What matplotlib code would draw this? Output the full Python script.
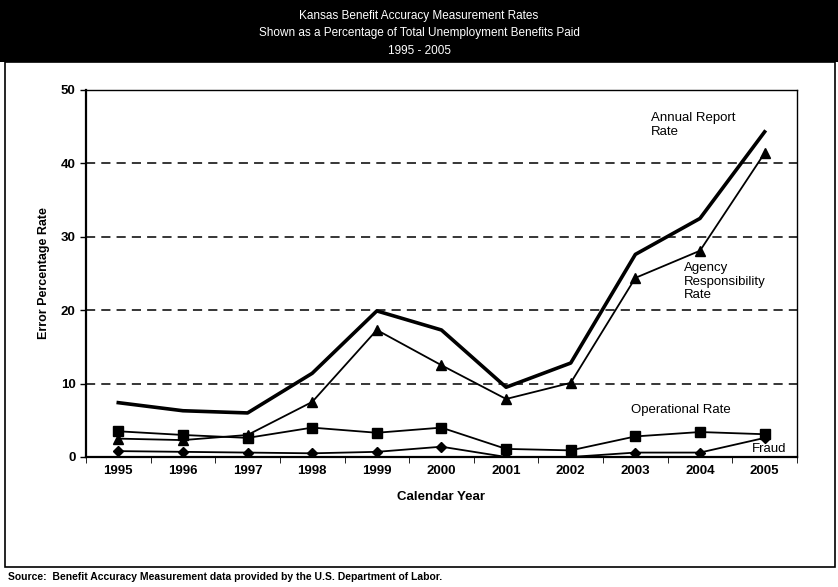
import matplotlib.pyplot as plt
from matplotlib.patches import Rectangle

plt.rcParams['font.family'] = ['Liberation Sans', 'DejaVu Sans']

years = ['1995', '1996', '1997', '1998', '1999', '2000',
         '2001', '2002', '2003', '2004', '2005']
annual_report = [7.4, 6.3, 6.0, 11.4, 19.9, 17.3, 9.5, 12.8, 27.6, 32.5, 44.3]
agency_resp = [2.5, 2.3, 3.0, 7.5, 17.3, 12.5, 7.9, 10.1, 24.4, 28.1, 41.4]
operational = [3.5, 3.0, 2.6, 4.0, 3.3, 4.0, 1.1, 0.9, 2.8, 3.4, 3.1]
fraud = [0.8, 0.7, 0.6, 0.5, 0.7, 1.4, 0.0, 0.0, 0.6, 0.6, 2.6]

title_lines = ['Kansas Benefit Accuracy Measurement Rates',
               'Shown as a Percentage of Total Unemployment Benefits Paid',
               '1995 - 2005']


def plot_rates():
    fig = plt.figure(figsize=(8.38, 5.87), dpi=100)

    # black header band + outer frame
    fig.patches.append(Rectangle((0, 0.894), 1, 0.106, transform=fig.transFigure,
                                 facecolor='black', edgecolor='none'))
    fig.patches.append(Rectangle((0.006, 0.034), 0.99, 0.86, transform=fig.transFigure,
                                 facecolor='none', edgecolor='black', linewidth=1.2))
    for i, line in enumerate(title_lines):
        fig.text(0.5, 0.973 - i * 0.03, line, color='white', ha='center',
                 va='center', fontsize=8.5)
    fig.text(0.01, 0.017, 'Source:  Benefit Accuracy Measurement data provided by the U.S. Department of Labor.',
             fontsize=7.5, fontweight='bold', va='center')

    ax = fig.add_axes([0.1026, 0.2215, 0.8484, 0.6252])
    x = list(range(len(years)))

    ax.plot(x, annual_report, color='black', linewidth=2.6)
    ax.plot(x, agency_resp, color='black', linewidth=1.3, marker='^', markersize=6.5)
    ax.plot(x, operational, color='black', linewidth=1.3, marker='s', markersize=6.5)
    ax.plot(x, fraud, color='black', linewidth=1.3, marker='D', markersize=5.5)

    ax.set_xlim(-0.5, len(years) - 0.5)
    ax.set_ylim(0, 50)
    ax.set_yticks([0, 10, 20, 30, 40, 50])
    for yv in [10, 20, 30, 40]:
        ax.axhline(yv, color='black', linestyle=(0, (6, 4)), linewidth=1.1, zorder=0)

    ax.set_xticks(x)
    ax.set_xticklabels(years, fontsize=9.5, fontweight='bold')
    ax.set_xticks([i - 0.5 for i in range(len(years) + 1)], minor=True)
    ax.tick_params(axis='x', which='major', length=0, pad=6)
    ax.tick_params(axis='x', which='minor', length=4, direction='out')
    ax.tick_params(axis='y', labelsize=9.5, length=4, width=1)
    for lab in ax.get_yticklabels():
        lab.set_fontweight('bold')

    for side in ['left', 'bottom']:
        ax.spines[side].set_linewidth(1.6)
    for side in ['top', 'right']:
        ax.spines[side].set_linewidth(1.0)

    ax.set_xlabel('Calendar Year', fontsize=9.5, fontweight='bold', labelpad=10)
    ax.set_ylabel('Error Percentage Rate', fontsize=9, fontweight='bold', labelpad=8)

    ax.text(8.24, 47.0, 'Annual Report\nRate', fontsize=9.5, ha='left', va='top')
    ax.text(8.75, 26.6, 'Agency\nResponsibility\nRate', fontsize=9.5, ha='left', va='top')
    ax.text(7.94, 6.4, 'Operational Rate', fontsize=9.5, ha='left', va='center')
    ax.text(9.81, 1.1, 'Fraud', fontsize=9.5, ha='left', va='center')

    fig.savefig('out.png', dpi=100)


if __name__ == "__main__":
    plot_rates()
